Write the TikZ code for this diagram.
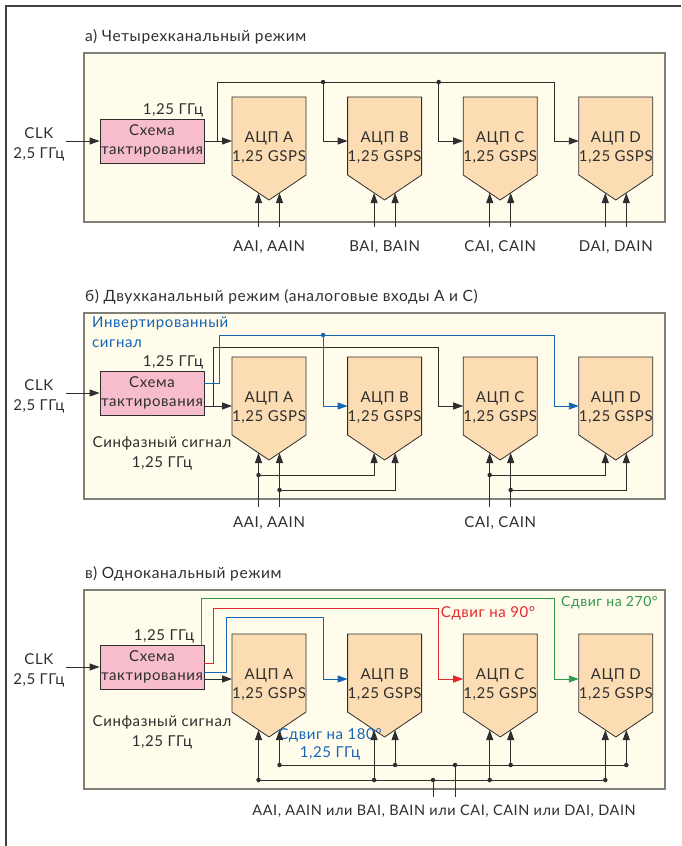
\documentclass[tikz,border=0pt]{standalone}
\usepackage{fontspec}
\setmainfont{Lato}[LetterSpace=4]
\usetikzlibrary{positioning,arrows.meta}

\definecolor{ink}{HTML}{2E2E2E}
\definecolor{panelbg}{HTML}{FFFCEC}
\definecolor{panelline}{HTML}{808078}
\definecolor{clkfill}{HTML}{F7BDCC}
\definecolor{adcfill}{HTML}{FCDDB3}
\definecolor{sigblue}{HTML}{1565B5}
\definecolor{sigred}{HTML}{E5282D}
\definecolor{siggreen}{HTML}{2F9A4A}

\tikzset{
  frame/.style={draw=black!75, line width=1.2pt},
  panel/.style={fill=panelbg, draw=panelline, line width=1.5pt},
  txt/.style={text=ink, font=\fontsize{15}{20}\selectfont, inner sep=1pt},
  title/.style={txt, font=\fontsize{15.5}{18}\selectfont, anchor=base west},
  clkbox/.style={txt, draw=ink, line width=0.8pt, fill=clkfill, minimum width=104pt,
    minimum height=44pt, inner sep=0pt, align=center, font=\fontsize{15}{19}\selectfont},
  adcbody/.style={draw=ink, line width=0.8pt, fill=adcfill},
  adctext/.style={txt, align=center, font=\fontsize{15}{19}\selectfont},
  wire/.style={draw=ink, line width=0.9pt},
  sig/.style={wire, -{Triangle[length=10pt,width=7pt]}},
  dot/.style={circle, fill=ink, inner sep=0pt, minimum size=4.5pt},
}

\begin{document}
\begin{tikzpicture}[x=1pt, y=-1pt]
  \useasboundingbox (0,0) rectangle (681,846);
  \draw[frame] (681,6) -- (6,6) -- (6,846);

  % panels and titles
  \foreach \p/\ty/\yb/\ttl in {
      a/53/222/{а) Четырехканальный режим},
      b/313/499/{б) Двухканальный режим (аналоговые входы А и С)},
      c/590/789/{в) Одноканальный режим}} {
    \draw[panel] (84,\ty) rectangle (665,\yb);
    \node[title] (\p-title) at (84,\ty-12) {\ttl};
  }

  % ADC blocks
  \foreach \p/\ty/\dy in {a/97/44, b/357/49, c/634/45} {
    \foreach \ch [count=\n] in {A,B,C,D} {
      \pgfmathsetmacro\xl{232+115.6*(\n-1)}
      \filldraw[adcbody] (\xl,\ty) -- ++(74,0) -- ++(0,78) -- ++(-37,25) -- ++(-37,-25) -- cycle;
      \node[adctext] (\p\ch) at (\xl+37,\ty+51) {АЦП \ch\\1,25 GSPS};
      \coordinate (\p\ch-in) at (\xl,\ty+\dy);
      \coordinate (\p\ch-tap) at (\xl-24.5,\ty);
      \coordinate (\p\ch-i1) at (\xl+26.5,\ty+96);
      \coordinate (\p\ch-i2) at (\xl+47.5,\ty+96);
    }
  }

  % clock blocks
  \foreach \p/\y in {a/141, b/393, c/667} {
    \node[clkbox] (s\p) at (152,\y) {Схема\\тактирования};
    \node[txt, align=center, left=34pt of s\p, yshift=-3pt] (clk\p) {CLK\\2,5 ГГц};
    \draw[sig] (clk\p.east |- s\p) -- (s\p);
  }
  \node[txt, anchor=south east] (fa) at (sa.north east) {1,25 ГГц};
  \node[txt, anchor=south east] (fb) at (sb.north east) {1,25 ГГц};
  \node[txt, anchor=south east, xshift=-9pt] (fc) at (sc.north east) {1,25 ГГц};

  % panel a: clock to all four ADCs
  \coordinate (ka) at (217,82);
  \draw[sig] (sa) -- (aA-in);
  \draw[sig] (ka |- aA-in) -- (ka) -| (aD-tap) |- (aD-in);
  \foreach \ch in {B,C} {
    \node[dot] (a\ch-dot) at (a\ch-tap |- ka) {};
    \draw[sig] (a\ch-dot.center) |- (a\ch-in);
  }
  \coordinate (a-bot) at (0,227);
  \foreach \ch/\inp in {A/{AAI, AAIN}, B/{BAI, BAIN}, C/{CAI, CAIN}, D/{DAI, DAIN}} {
    \node[txt, anchor=base] (a\ch-lbl) at (a\ch |- 0,251) {\inp};
    \draw[sig] (a\ch-i1 |- a-bot) -- (a\ch-i1);
    \draw[sig] (a\ch-i2 |- a-bot) -- (a\ch-i2);
  }

  % panel b: in-phase and inverted clock
  \node[txt, text=sigblue, align=left, anchor=north west] (inv) at (91,316) {Инвертированный\\сигнал};
  \node[txt, align=center] (phb) at (162,453) {Синфазный сигнал\\1,25 ГГц};
  \coordinate (kb) at (213,347);
  \coordinate (kbb) at (219,335);
  \draw[sig] (sb.east |- bA-in) -- (bA-in);
  \draw[sig] (kb |- bA-in) -- (kb) -| (bC-tap) |- (bC-in);
  \draw[sig, draw=sigblue, color=sigblue] ([yshift=10pt]sb.east) -| (kbb) -| (bD-tap) |- (bD-in);
  \node[dot, fill=sigblue] (bB-dot) at (bB-tap |- kbb) {};
  \draw[sig, draw=sigblue, color=sigblue] (bB-dot.center) |- (bB-in);
  \coordinate (b-bot) at (0,507);
  \coordinate (b-bus1) at (0,475);
  \coordinate (b-bus2) at (0,490);
  \foreach \ch/\nx/\inp in {A/B/{AAI, AAIN}, C/D/{CAI, CAIN}} {
    \node[txt, anchor=base] (b\ch-lbl) at (b\ch |- 0,527) {\inp};
    \node[dot] (b\ch-d1) at (b\ch-i1 |- b-bus1) {};
    \node[dot] (b\ch-d2) at (b\ch-i2 |- b-bus2) {};
    \draw[sig] (b\ch-i1 |- b-bot) -- (b\ch-i1);
    \draw[sig] (b\ch-i2 |- b-bot) -- (b\ch-i2);
    \draw[sig] (b\ch-d1.center) -| (b\nx-i1);
    \draw[sig] (b\ch-d2.center) -| (b\nx-i2);
  }

  % panel c: four shifted clocks
  \node[txt, align=center] (phc) at (162,732) {Синфазный сигнал\\1,25 ГГц};
  \coordinate (kcg) at (201,598);
  \coordinate (kcr) at (213,608);
  \coordinate (kcb) at (226,617);
  \draw[sig] (sc.east |- cA-in) -- (cA-in);
  \draw[sig, draw=sigblue, color=sigblue] ([yshift=-5pt]sc.east) -| (kcb) -| (cB-tap) |- (cB-in);
  \draw[sig, draw=sigred, color=sigred] ([yshift=4pt]sc.east) -| (kcr) -| (cC-tap) |- (cC-in);
  \draw[sig, draw=siggreen, color=siggreen] (kcg |- sc.north) -- (kcg) -| (cD-tap) |- (cD-in);
  \node[txt, text=sigblue, align=center, font=\fontsize{15}{18}\selectfont] (sh180) at (330,744) {Сдвиг на 180°\\1,25 ГГц};
  \node[txt, text=sigred] (sh90) at (488,613) {Сдвиг на 90°};
  \node[txt, text=siggreen, anchor=west, font=\fontsize{14}{18}\selectfont] (sh270) at (560,603) {Сдвиг на 270°};
  \coordinate (c-bus1) at (0,780);
  \coordinate (c-bus2) at (0,765);
  \draw[wire] (cA-i1 |- c-bus1) -- (cD-i1 |- c-bus1);
  \draw[wire] (cA-i2 |- c-bus2) -- (cD-i2 |- c-bus2);
  \foreach \ch in {A,B,C,D} {
    \node[dot] (c\ch-d1) at (c\ch-i1 |- c-bus1) {};
    \node[dot] (c\ch-d2) at (c\ch-i2 |- c-bus2) {};
    \draw[sig] (c\ch-d1.center) -- (c\ch-i1);
    \draw[sig] (c\ch-d2.center) -- (c\ch-i2);
  }
  \coordinate (c-in1) at (433,797);
  \coordinate (c-in2) at (455,797);
  \node[dot] (c-d1) at (c-in1 |- c-bus1) {};
  \node[dot] (c-d2) at (c-in2 |- c-bus2) {};
  \draw[wire] (c-in1) -- (c-d1.center);
  \draw[wire] (c-in2) -- (c-d2.center);
  \node[txt, anchor=base, font=\fontsize{14.5}{18}\selectfont] (c-lbl) at (444,815) {AAI, AAIN или BAI, BAIN или CAI, CAIN или DAI, DAIN};
\end{tikzpicture}
\end{document}
